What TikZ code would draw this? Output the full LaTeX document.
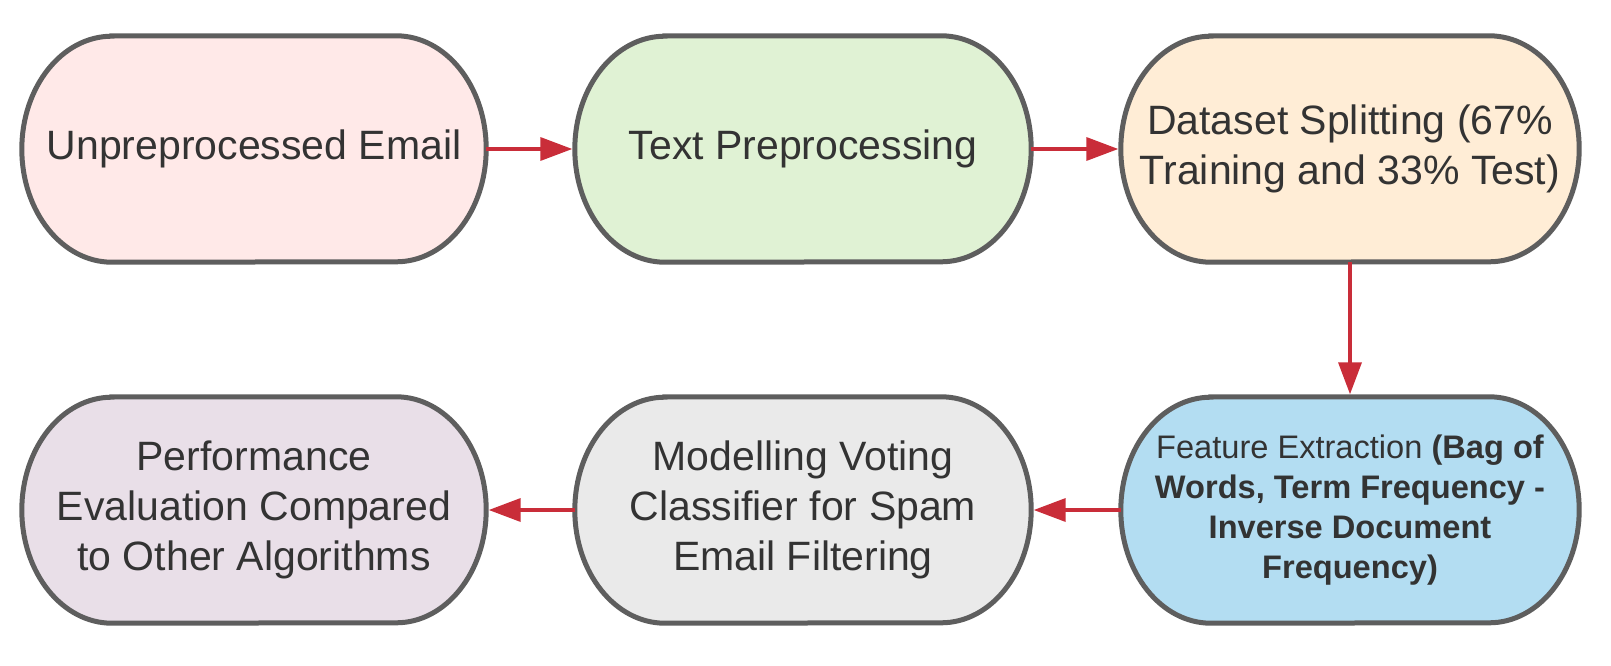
\documentclass[tikz,border=0pt]{standalone}
\usepackage{fontspec}
\setmainfont{Liberation Sans}
\usetikzlibrary{arrows.meta,calc,backgrounds}
\definecolor{bordergray}{HTML}{5E5E5E}
\definecolor{arrowred}{HTML}{C92D39}
\definecolor{txtgray}{HTML}{333333}
\definecolor{fpink}{HTML}{FFE9E8}
\definecolor{fgreen}{HTML}{E0F2D4}
\definecolor{fpeach}{HTML}{FFEDD6}
\definecolor{fblue}{HTML}{B3DDF2}
\definecolor{fgray}{HTML}{EAEAEA}
\definecolor{fmauve}{HTML}{E9DFE8}
\newcommand\stadiumshape[2]{%
  \begin{scope}[on background layer]
  \draw[border, fill=#2] ($(#1.north west)+(90pt,0)$) -- ($(#1.north east)+(-90pt,0)$)
    arc[start angle=90, end angle=-90, x radius=90pt, y radius=113pt]
    -- ($(#1.south west)+(90pt,0)$)
    arc[start angle=270, end angle=90, x radius=90pt, y radius=113pt] -- cycle;
  \end{scope}}
\tikzset{
  border/.style={draw=bordergray, line width=5pt},
  stage/.style={shape=rectangle, inner sep=0pt, minimum height=226pt, align=center,
    text=txtgray, font=\fontsize{41}{50}\selectfont},
  small/.style={font=\fontsize{32.6}{40}\selectfont},
  flow/.style={draw=arrowred, line width=3.5pt, shorten >=2.5pt,
    -{Triangle[length=32pt,width=23pt]}}
}
\begin{document}
\begin{tikzpicture}[x=1pt,y=1pt]
\begin{scope}[on background layer]
\fill[white] (0,0) rectangle (1611,-666);
\end{scope}
\useasboundingbox (0,0) rectangle (1611,-666);
\node[stage, minimum width=464pt] (n1) at (254,-149) {Unpreprocessed Email};
\node[stage, minimum width=456pt] (n2) at (803,-149) {Text Preprocessing};
\node[stage, minimum width=458pt] (n3) at (1350,-149) {Dataset Splitting (67\%\\Training and 33\% Test)};
\node[stage, small, minimum width=458pt] (n4) at (1350,-510) {Feature Extraction \textbf{(Bag of}\\\textbf{Words, Term Frequency -}\\\textbf{Inverse Document}\\\textbf{Frequency)}};
\node[stage, minimum width=456pt] (n5) at (803,-510) {Modelling Voting\\Classifier for Spam\\Email Filtering};
\node[stage, minimum width=464pt] (n6) at (254,-510) {Performance\\Evaluation Compared\\to Other Algorithms};
\stadiumshape{n1}{fpink}
\stadiumshape{n2}{fgreen}
\stadiumshape{n3}{fpeach}
\stadiumshape{n4}{fblue}
\stadiumshape{n5}{fgray}
\stadiumshape{n6}{fmauve}
\draw[flow] (n1.east) -- (n2.west);
\draw[flow] (n2.east) -- (n3.west);
\draw[flow] (n3.south) -- (n4.north);
\draw[flow] (n4.west) -- (n5.east);
\draw[flow] (n5.west) -- (n6.east);
\end{tikzpicture}
\end{document}
